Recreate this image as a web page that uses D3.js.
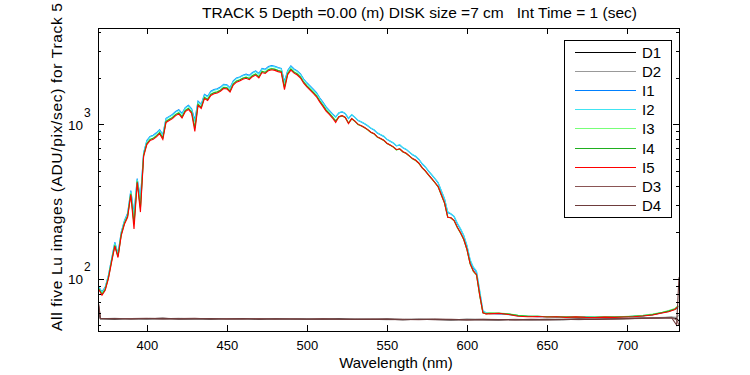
<!DOCTYPE html>
<html><head><meta charset="utf-8">
<script src="https://cdn.jsdelivr.net/npm/d3@7"></script>
<style>
html,body{margin:0;padding:0;background:#fff;}
svg{display:block;font-family:"Liberation Sans",Arial,Helvetica,sans-serif;}
</style></head>
<body><svg id="c" width="750" height="375"></svg>
<script>
// ---------- data ----------
const wavelength = [370,372,374,376,378,380,382,384,386,388,390,392,394,396,398,
400,402,404,406,408,410,412,414,416,418,420,422,424,426,428,
430,432,434,436,438,440,442,444,446,448,450,452,454,456,458,
460,462,464,466,468,470,472,474,476,478,480,482,484,486,488,
490,492,494,496,498,500,502,504,506,508,510,512,514,516,518,
520,522,524,526,528,530,532,534,536,538,540,542,544,546,548,
550,552,554,556,558,560,562,564,566,568,570,572,574,576,578,
580,582,584,586,588,590,592,594,596,598,600,602,604,606,608,
610,612,
614,620,626,632,638,644,650,656,662,668,674,680,686,692,698,704,710,716,722,726,730,732];

const I1 = [88,82,88,105,134,172,145,200,237,265,372,265,445,330,655,
785,835,850,882,925,860,1095,1127,1160,1212,1245,1180,1287,1330,1265,
1070,1415,1355,1565,1522,1640,1682,1703,1746,1820,1810,1730,1916,2001,2033,
2087,2118,2080,2172,2225,2140,2310,2278,2374,2406,2385,2342,2310,1900,2236,
2396,2289,2225,2130,1970,1863,1778,1693,1608,1490,1395,1299,1235,1171,1120,
1185,1206,1174,1090,1153,1111,1058,1037,1010,979,942,920,878,857,836,
799,778,756,725,735,704,688,661,635,619,592,555,529,497,471,
444,418,370,328,268,262,252,227,209,190,163,131,117,110,82,
61,60,
59.5,59,58.8,57.5,57,56.5,56.8,56.2,56.5,56,56.4,56,56,56.4,56.5,57,57.5,58.4,60,61.5,63.5,65];

const I2 = [88,81,87,104,133,170,144,198,235,262,368,258,440,322,650,
778,828,843,875,918,850,1085,1117,1150,1202,1233,1165,1275,1318,1250,
1040,1402,1340,1550,1508,1624,1666,1687,1729,1803,1792,1710,1898,1982,2014,
2066,2098,2058,2150,2203,2115,2288,2256,2351,2382,2361,2319,2288,1860,2214,
2372,2267,2203,2108,1950,1845,1761,1676,1592,1476,1381,1286,1223,1160,1110,
1190,1211,1179,1100,1158,1116,1063,1041,1015,983,946,925,882,861,840,
802,781,760,728,739,707,691,664,638,622,595,558,532,500,473,
446,420,372,330,272,264,253,229,211,191,165,133,119,112,84,
62,60,
59.2,59.3,58.3,57.3,56.8,56.9,56.5,56.6,56.3,56.2,56.1,56.2,56.3,56.1,56.6,56.8,57.3,58.2,60.2,61.2,63.2,64];

const I3 = [86,80,86,102,131,166,140,194,230,256,358,230,430,290,635,
755,802,817,848,888,822,1052,1083,1113,1164,1195,1125,1236,1277,1208,
960,1358,1300,1502,1461,1573,1614,1634,1675,1747,1737,1658,1839,1921,1951,
2002,2033,1994,2084,2135,2046,2216,2186,2278,2308,2288,2247,2216,1760,2145,
2298,2196,2135,2043,1890,1787,1706,1624,1542,1430,1338,1246,1185,1123,1060,
1115,1134,1105,1020,1085,1045,995,975,950,920,886,866,826,806,786,
751,731,711,682,692,662,647,622,597,582,557,522,497,468,443,
418,393,348,308,252,247,237,214,197,179,154,124,111,105,77,
60,59.5,
60,59.8,59,57.8,57.2,56.9,56.6,56.8,56.5,56.5,56.3,56.2,56.4,56.5,56.8,57.2,57.8,58.8,60.5,62,64,67];

const I4 = [86,79,85,101,130,164,139,193,228,254,355,225,426,285,630,
750,797,812,843,883,815,1046,1076,1106,1157,1188,1118,1228,1269,1200,
945,1350,1290,1492,1452,1563,1604,1624,1665,1736,1726,1646,1827,1908,1939,
1989,2020,1981,2071,2121,2032,2203,2172,2263,2294,2274,2233,2203,1740,2132,
2284,2182,2121,2030,1878,1776,1695,1614,1533,1421,1330,1238,1177,1117,1050,
1120,1140,1110,1020,1090,1050,1000,980,955,925,890,870,830,810,790,
755,735,715,685,695,665,650,625,600,585,560,525,500,470,445,
420,395,350,310,250,248,238,215,198,180,155,125,112,106,78,
60,59,
59.5,59.6,58.8,57.6,57,56.9,56.5,56.6,56.2,56.3,56.1,56,56.2,56.2,56.5,56.9,57.4,58.4,60.2,61.5,63.5,66];

const I5 = [85,78,84,100,128,162,137,190,225,250,350,210,420,270,620,
740,785,800,830,870,800,1030,1060,1090,1140,1170,1100,1210,1250,1180,
900,1330,1270,1470,1430,1540,1580,1600,1640,1710,1700,1620,1800,1880,1910,
1960,1990,1950,2040,2090,2000,2170,2140,2230,2260,2240,2200,2170,1680,2100,
2250,2150,2090,2000,1850,1750,1670,1590,1510,1400,1310,1220,1160,1100,1030,
1120,1140,1110,1010,1090,1050,1000,980,955,925,890,870,830,810,790,
755,735,715,685,695,665,650,625,600,585,560,525,500,470,445,
420,395,350,310,250,248,238,215,198,180,155,125,112,106,78,
60,59,
59,59.5,58.5,57,56.5,56.8,56.3,56.5,56,56.4,56,55.8,56.2,56,56.3,56.6,57.2,58,59.8,61,63,66];

const darkWavelength = [370,371,380,390,400,410,420,430,440,450,460,470,480,490,500,510,520,530,540,550,
560,570,580,590,600,610,620,630,640,650,660,670,680,690,700,710,720,728,731,732.5];

const D1 = [60,55,54.6,55.1,54.8,55.2,54.7,55,54.6,54.9,55.1,54.5,54.8,55,54.6,54.4,54.8,54.5,54.3,54.6,
54.2,54.5,54.3,54,54.4,54.2,54,54.3,54.1,54.4,54.2,54.6,54.5,54.9,55.2,55.4,55.6,56,55,53];
const D2 = [63,54.8,55.2,54.6,55,54.8,55.3,54.7,55.1,54.6,54.8,55,54.6,55.1,54.5,54.7,54.4,54.8,54.6,54.2,
54.5,54.3,54.6,54.1,54.3,54.5,54.1,54.4,54,54.3,54.5,54.2,54.7,54.6,55,55.3,55.8,56.3,56,58];
const D3 = [66,55.2,54.9,55,55.3,54.8,55,55.2,54.7,55,54.8,55.1,54.6,54.9,54.7,54.9,54.5,54.7,54.4,54.7,
54.4,54.2,54.6,54.3,54.1,54.4,54.2,54,54.3,54.1,54.4,54.3,54.5,54.8,54.9,55.2,55.5,55.8,54,50];
const D4 = [68,55,55.1,54.7,55,55.2,54.8,54.9,55.1,54.7,55,54.6,54.9,54.7,54.5,54.8,54.6,54.3,54.6,54.4,
54.1,54.5,54.2,54.4,54,54.3,54.2,54.1,54.4,54.2,54.3,54.6,54.4,54.7,55,55.3,55.6,55.5,50,102];

const seriesNames = ["D1","D2","I1","I2","I3","I4","I5","D3","D4"];
const seriesColors = ["#000000","#999999","#0080ff","#40e4f2","#78ff78","#1fae1f","#ff0000","#8a5555","#6e3c3c"];

const xTicks = [400,450,500,550,600,650,700];
const yMajorTicks = [100,1000];
const yMinorTicks = [50,60,70,80,90,200,300,400,500,600,700,800,900,2000,3000,4000];

const titleText = "TRACK 5 Depth =0.00 (m) DISK size =7 cm   Int Time = 1 (sec)";
const xLabelText = "Wavelength (nm)";
const yLabelText = "All five Lu images (ADU/pix/sec) for Track 5";

// ---------- layout ----------
const L = 98, R = 679, T = 28, B = 331;
const svg = d3.select("#c");

const x = d3.scaleLinear().domain([369.5, 732.5]).range([L, R]);
const y = d3.scaleLog().domain([45.7, 4220]).range([B, T]);

const seriesData = {
  D1: darkWavelength.map((w,i)=>[w,D1[i]]),
  D2: darkWavelength.map((w,i)=>[w,D2[i]]),
  I1: wavelength.map((w,i)=>[w,I1[i]]),
  I2: wavelength.map((w,i)=>[w,I2[i]]),
  I3: wavelength.map((w,i)=>[w,I3[i]]),
  I4: wavelength.map((w,i)=>[w,I4[i]]),
  I5: wavelength.map((w,i)=>[w,I5[i]]),
  D3: darkWavelength.map((w,i)=>[w,D3[i]]),
  D4: darkWavelength.map((w,i)=>[w,D4[i]])
};

svg.append("defs").append("clipPath").attr("id","clip")
  .append("rect").attr("x",L).attr("y",T).attr("width",R-L).attr("height",B-T);

const line = d3.line().x(d=>x(d[0])).y(d=>y(d[1]));
const plot = svg.append("g").attr("clip-path","url(#clip)");
seriesNames.forEach((n,i)=>{
  plot.append("path").datum(seriesData[n])
    .attr("d",line).attr("fill","none")
    .attr("stroke",seriesColors[i]).attr("stroke-width",1.1)
    .attr("stroke-linejoin","miter");
});

// ---------- axes ----------
function styleAxis(g){
  g.select(".domain").remove();
  g.selectAll(".tick line").attr("stroke","#000").attr("stroke-width",1).attr("shape-rendering","crispEdges");
}
svg.append("g").attr("transform",`translate(0,${B})`)
  .call(d3.axisBottom(x).tickValues(xTicks).tickSize(-6).tickPadding(10).tickFormat(d3.format("d")))
  .call(styleAxis)
  .call(g=>g.selectAll("text").attr("font-size",13).attr("fill","#000").attr("font-family","'Liberation Sans',Arial,sans-serif"));
svg.append("g").attr("transform",`translate(0,${T})`)
  .call(d3.axisTop(x).tickValues(xTicks).tickSize(-6).tickFormat(""))
  .call(styleAxis);

// left / right log axes
[[L,d3.axisLeft],[R,d3.axisRight]].forEach(([px,ax])=>{
  svg.append("g").attr("transform",`translate(${px},0)`)
    .call(ax(y).tickValues(yMajorTicks).tickSize(-6).tickFormat(""))
    .call(styleAxis);
  svg.append("g").attr("transform",`translate(${px},0)`)
    .call(ax(y).tickValues(yMinorTicks).tickSize(-3).tickFormat(""))
    .call(styleAxis);
});

// y tick labels 10^n
const yl = svg.append("g").attr("fill","#000");
yMajorTicks.forEach(v=>{
  const yy = y(v);
  yl.append("text").attr("x",83).attr("y",yy+5.5).attr("text-anchor","end").attr("font-size",13.5).text("10");
  yl.append("text").attr("x",84).attr("y",yy-7.5).attr("font-size",12).text(String(Math.round(Math.log10(v))));
});

// frame
svg.append("rect").attr("x",L+0.5).attr("y",T+0.5).attr("width",R-L).attr("height",B-T)
  .attr("fill","none").attr("stroke","#000").attr("stroke-width",1).attr("shape-rendering","crispEdges");

// ---------- labels ----------
svg.append("text").attr("x",202).attr("y",18).attr("text-anchor","start")
  .attr("font-size",15).attr("textLength",435).attr("lengthAdjust","spacingAndGlyphs")
  .attr("xml:space","preserve").style("white-space","pre").text(titleText);
svg.append("text").attr("x",396).attr("y",368).attr("text-anchor","middle")
  .attr("font-size",15).text(xLabelText);
svg.append("text").attr("transform","translate(62,167) rotate(-90)").attr("text-anchor","middle")
  .attr("font-size",15.5).attr("textLength",328).attr("lengthAdjust","spacing").text(yLabelText);

// ---------- legend ----------
const lg = svg.append("g");
lg.append("rect").attr("x",564.5).attr("y",40.5).attr("width",107).attr("height",177)
  .attr("fill","#fff").attr("stroke","#000").attr("stroke-width",1).attr("shape-rendering","crispEdges");
seriesNames.forEach((n,i)=>{
  const yy = Math.round(52 + i*19.1)+0.5;
  lg.append("line").attr("x1",575).attr("x2",636).attr("y1",yy).attr("y2",yy)
    .attr("stroke",seriesColors[i]).attr("stroke-width",1);
  lg.append("text").attr("x",642).attr("y",yy+5.5).attr("font-size",15).text(n);
});
</script></body></html>
